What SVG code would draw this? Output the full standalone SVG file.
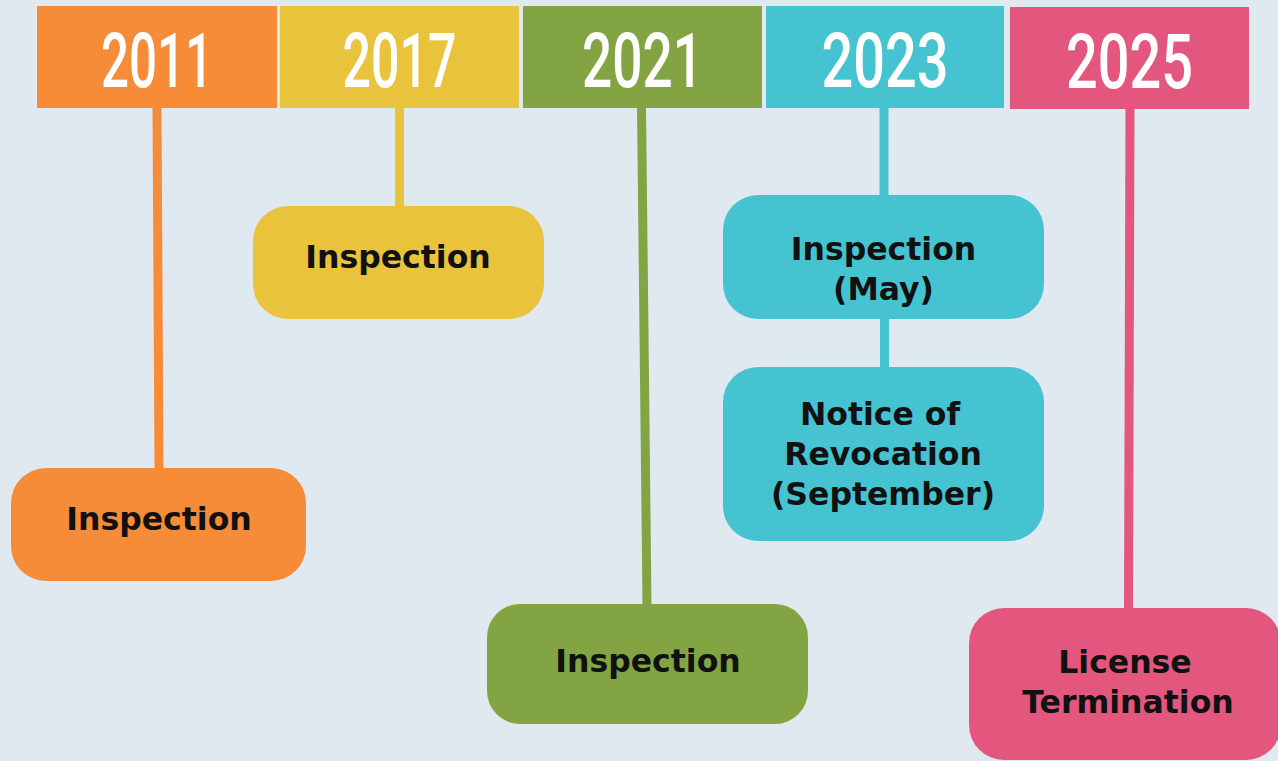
<svg xmlns="http://www.w3.org/2000/svg" width="1278" height="761" viewBox="0 0 1278 761">
  <style>
    .year { font-family: Roboto, "DejaVu Sans Condensed", "Liberation Sans", sans-serif; font-weight: 500; font-size: 76px; fill: #ffffff; text-anchor: middle; }
    .lbl { font-family: "DejaVu Sans", "Liberation Sans", sans-serif; font-weight: bold; font-size: 31.5px; fill: #111111; text-anchor: middle; }
    .c { stroke-width: 9; fill: none; stroke-linecap: butt; }
  </style>
  <rect x="0" y="0" width="1278" height="761" fill="#E1E9F0"/>

  <g id="connectors">
    <line class="c" x1="157" y1="107" x2="159" y2="469" stroke="#F68B38"/>
    <line class="c" x1="399.5" y1="107" x2="399.5" y2="207" stroke="#E8C33B"/>
    <line class="c" x1="641.5" y1="107" x2="647" y2="605" stroke="#83A443"/>
    <line class="c" x1="884" y1="107" x2="884" y2="196" stroke="#45C3D1"/>
    <line class="c" x1="884.5" y1="318" x2="884.5" y2="368" stroke="#45C3D1"/>
    <line class="c" x1="1130" y1="108" x2="1128.5" y2="609" stroke="#E3577E"/>
  </g>

  <g id="y2011">
    <rect x="37" y="6" width="240" height="102" fill="#F68B38"/>
    <text class="year" x="157" y="87" textLength="112" lengthAdjust="spacingAndGlyphs">2011</text>
  </g>
  <g id="y2017">
    <rect x="280" y="6" width="239" height="102" fill="#E8C33B"/>
    <text class="year" x="399.5" y="87" textLength="114" lengthAdjust="spacingAndGlyphs">2017</text>
  </g>
  <g id="y2021">
    <rect x="523" y="6" width="239" height="102" fill="#83A443"/>
    <text class="year" x="642.5" y="87" textLength="121" lengthAdjust="spacingAndGlyphs">2021</text>
  </g>
  <g id="y2023">
    <rect x="766" y="6" width="238" height="102" fill="#45C3D1"/>
    <text class="year" x="885" y="87" textLength="127" lengthAdjust="spacingAndGlyphs">2023</text>
  </g>
  <g id="y2025">
    <rect x="1010" y="7" width="239" height="102" fill="#E3577E"/>
    <text class="year" x="1129.5" y="88" textLength="127" lengthAdjust="spacingAndGlyphs">2025</text>
  </g>

  <g id="n2011">
    <rect x="11" y="468" width="295" height="113" rx="35" fill="#F68B38"/>
    <text class="lbl" x="159" y="530">Inspection</text>
  </g>
  <g id="n2017">
    <rect x="253" y="206" width="291" height="113" rx="35" fill="#E8C33B"/>
    <text class="lbl" x="398" y="268">Inspection</text>
  </g>
  <g id="n2021">
    <rect x="487" y="604" width="321" height="120" rx="33" fill="#83A443"/>
    <text class="lbl" x="648" y="672">Inspection</text>
  </g>
  <g id="n2023a">
    <rect x="723" y="195" width="321" height="124" rx="35" fill="#45C3D1"/>
    <text class="lbl" x="883.5" y="260">Inspection</text>
    <text class="lbl" x="883.5" y="300">(May)</text>
  </g>
  <g id="n2023b">
    <rect x="723" y="367" width="321" height="174" rx="35" fill="#45C3D1"/>
    <text class="lbl" x="880" y="425">Notice of</text>
    <text class="lbl" x="883" y="465">Revocation</text>
    <text class="lbl" x="883" y="505">(September)</text>
  </g>
  <g id="n2025">
    <rect x="969" y="608" width="312" height="152" rx="35" fill="#E3577E"/>
    <text class="lbl" x="1125" y="673">License</text>
    <text class="lbl" x="1128" y="713">Termination</text>
  </g>
</svg>
